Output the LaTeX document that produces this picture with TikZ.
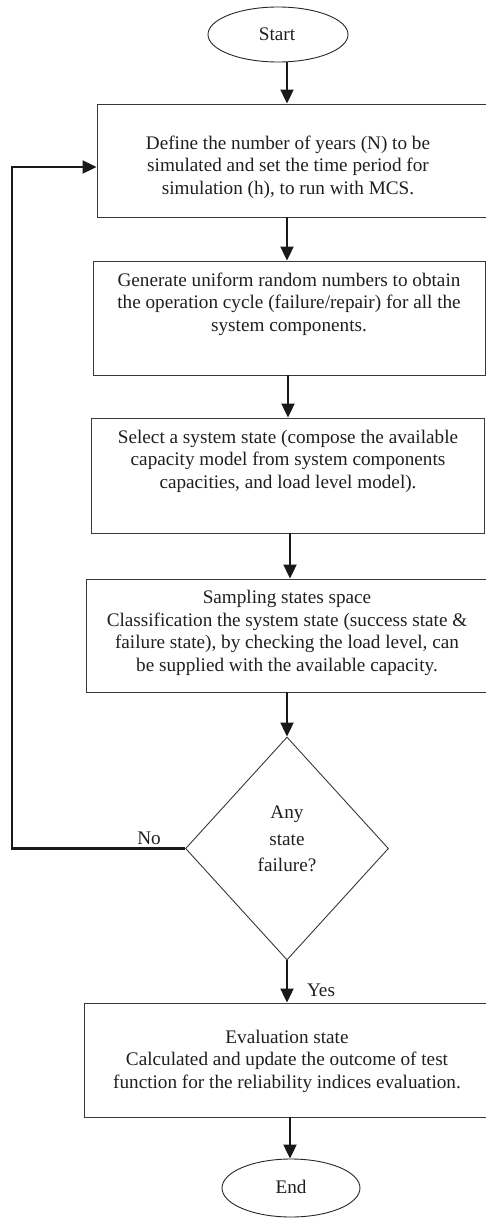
\documentclass[tikz,border=0pt]{standalone}
\usepackage{fontspec}
\setmainfont{Liberation Serif}
\usetikzlibrary{shapes.geometric,arrows.meta}
\begin{document}
\begin{tikzpicture}[x=1pt,y=-1pt,
  box/.style={draw=black!78, line width=0.9pt, inner sep=0pt, rectangle},
  oval/.style={draw=black!85, line width=0.9pt, ellipse, inner sep=0pt},
  txt/.style={font=\fontsize{19.2}{22.5}\selectfont, align=center, text=black!88, inner sep=0pt},
  lbl/.style={font=\fontsize{19.2}{22.5}\selectfont, text=black!88, inner sep=0pt},
  arr/.style={line width=2.1pt, draw=black!90, -{Triangle[length=14pt,width=13pt]}},
  loop/.style={line width=2.1pt, draw=black!90}
]
\useasboundingbox (0,0) rectangle (486,1218);
\clip (0,0) rectangle (486,1218);

% shapes
\node[oval, minimum width=140pt, minimum height=55pt] (start) at (278,34.5) {};
\node[lbl] (starttxt) at (277,34) {Start};

\node[box, minimum width=395pt, minimum height=113pt] (b1) at (294.5,160.5) {};
\node[txt] (t1) at (288,167) {Define the number of years (N) to be\\simulated and set the time period for\\simulation (h), to run with MCS.};

\node[box, minimum width=392pt, minimum height=114pt] (b2) at (289,318) {};
\node[txt] (t2) at (289,304) {Generate uniform random numbers to obtain\\the operation cycle (failure/repair) for all the\\system components.};

\node[box, minimum width=393pt, minimum height=115pt] (b3) at (287.5,475.5) {};
\node[txt] (t3) at (288,461) {Select a system state (compose the available\\capacity model from system components\\capacities, and load level model).};

\node[box, minimum width=406pt, minimum height=113pt] (b4) at (289,635.5) {};
\node[txt] (t4) at (287,633) {Sampling states space\\Classification the system state (success state \&\\failure state), by checking the load level, can\\be supplied with the available capacity.};

\node[draw=black!78, line width=0.9pt, diamond, minimum width=203pt, minimum height=223pt, inner sep=0pt] (dia) at (287,848.5) {};
\node[txt, font=\fontsize{19.2}{26.5}\selectfont] (tdia) at (287,839) {Any\\state\\failure?};

\node[box, minimum width=408pt, minimum height=114pt] (b5) at (288,1060) {};
\node[txt] (t5) at (287,1061) {Evaluation state\\Calculated and update the outcome of test\\function for the reliability indices evaluation.};

\node[oval, minimum width=138pt, minimum height=58pt] (end) at (291,1188) {};
\node[lbl] (endtxt) at (291,1187) {End};

% connector columns
\coordinate (x287) at (287,0);
\coordinate (x288) at (288,0);
\coordinate (x290) at (290,0);
\coordinate (fb) at (12,167);

\draw[arr] (start.south -| x287) -- (b1.north -| x287);
\draw[arr] (b1.south -| x287) -- (b2.north -| x287);
\draw[arr] (b2.south -| x288) -- (b3.north -| x288);
\draw[arr] (b3.south -| x290) -- (b4.north -| x290);
\draw[arr] (b4.south -| x287) -- (dia.north);
\draw[arr] (dia.south) -- (b5.north -| x287);
\draw[arr] (b5.south -| x290) -- (end.north -| x290);
\draw[arr] (dia.west) -- (dia.west -| fb) -- (fb) -- (fb -| b1.west);

\node[lbl] (no) at (149,838) {No};
\node[lbl] (yes) at (321,990) {Yes};
\end{tikzpicture}
\end{document}
